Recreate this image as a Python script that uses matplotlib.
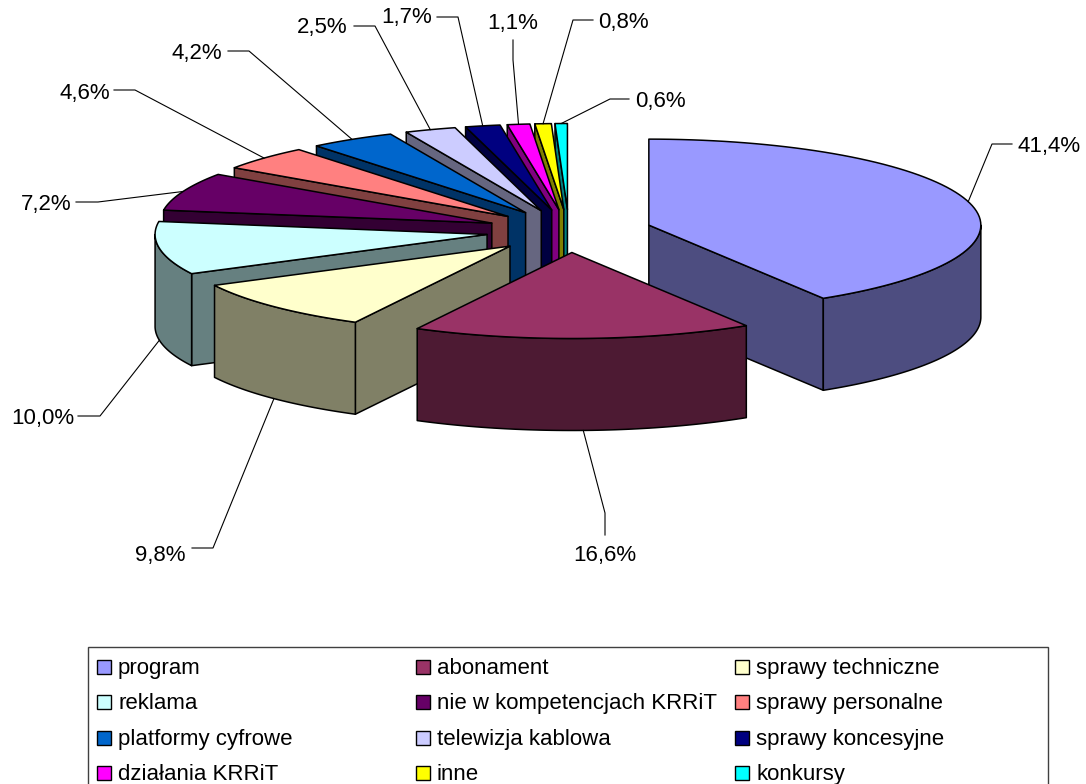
import numpy as np
import matplotlib
matplotlib.use('Agg')
import matplotlib.pyplot as plt
from matplotlib.patches import Polygon, Rectangle

plt.rcParams['font.family'] = ['Liberation Sans', 'DejaVu Sans']

names = ['program', 'abonament', 'sprawy techniczne', 'reklama',
         'nie w kompetencjach KRRiT', 'sprawy personalne', 'platformy cyfrowe',
         'telewizja kablowa', 'sprawy koncesyjne', 'działania KRRiT', 'inne', 'konkursy']
values = [41.4, 16.6, 9.8, 10.0, 7.2, 4.6, 4.2, 2.5, 1.7, 1.1, 0.8, 0.6]
colors = ['#9999FF', '#993366', '#FFFFCC', '#CCFFFF', '#660066', '#FF8080',
          '#0066CC', '#CCCCFF', '#000080', '#FF00FF', '#FFFF00', '#00FFFF']

# pie geometry in pixels
cx, cy = 569, 231
rx, ry = 332, 86
depth = 92
explode = 0.25

# label layout: text anchor, ha, end of the horizontal stub and elbow
label_layout = [
    (1017, 146, 'left', (1012, 144), (992, 144)),
    (605, 556, 'center', (605, 535), (605, 513)),
    (186, 555, 'right', (192, 548), (213, 548)),
    (74, 418, 'right', (78, 416), (100, 416)),
    (72, 204, 'right', (76, 202), (98, 202)),
    (110, 93, 'right', (114, 90), (135, 90)),
    (222, 53, 'right', (228, 51), (249, 51)),
    (348, 27, 'right', (354, 26), (375, 26)),
    (432, 17, 'right', (437, 17), (458, 17)),
    (513, 23, 'center', (513, 40), (513, 60)),
    (598, 22, 'left', (593, 20), (573, 20)),
    (635, 101, 'left', (629, 99), (610, 99)),
]

fig = plt.figure(figsize=(10.86, 7.84), dpi=100)
ax = fig.add_axes([0, 0, 1, 1])
ax.set_xlim(0, 1086)
ax.set_ylim(784, 0)
ax.axis('off')


def rim(apex, deg):
    a = np.radians(deg)
    return np.column_stack([apex[0] + rx * np.sin(a), apex[1] - ry * np.cos(a)])


def darker(col):
    return tuple(c * 0.5 for c in matplotlib.colors.to_rgb(col))


# slice angles, clockwise from 12 o'clock
edges = np.cumsum([0] + values) / sum(values) * 360
mids = (edges[:-1] + edges[1:]) / 2
apexes = [(cx + explode * rx * np.sin(np.radians(m)),
           cy - explode * ry * np.cos(np.radians(m))) for m in mids]

# back to front
for i in sorted(range(len(values)), key=lambda k: apexes[k][1]):
    a0, a1 = edges[i], edges[i + 1]
    apex = apexes[i]
    side = darker(colors[i])
    kw = dict(edgecolor='black', linewidth=1.1, joinstyle='round')

    for deg, seen in ((a0, np.sin(np.radians(a0)) < 0), (a1, np.sin(np.radians(a1)) > 0)):
        if seen:
            p = rim(apex, [deg])[0]
            ax.add_patch(Polygon([apex, p, (p[0], p[1] + depth), (apex[0], apex[1] + depth)],
                                 facecolor=side, **kw))

    w0, w1 = max(a0, 90), min(a1, 270)
    if w1 > w0:
        arc = rim(apex, np.linspace(w0, w1, 60))
        low = arc[::-1] + [0, depth]
        ax.add_patch(Polygon(np.vstack([arc, low]), facecolor=side, **kw))

    arc = rim(apex, np.linspace(a0, a1, 80))
    ax.add_patch(Polygon(np.vstack([[apex], arc]), facecolor=colors[i], **kw))

# leader lines and value labels
for i, v in enumerate(values):
    tx, ty, ha, stub, elbow = label_layout[i]
    p = rim(apexes[i], [mids[i]])[0]
    if 90 < mids[i] < 270:
        p = p + [0, depth]
    ax.plot([stub[0], elbow[0], p[0]], [stub[1], elbow[1], p[1]], color='black', lw=0.8)
    ax.text(tx, ty, f'{v:.1f}%'.replace('.', ','), ha=ha, va='center', fontsize=16, color='black')

# legend, filled row by row and cut off by the bottom of the image
ax.add_patch(Rectangle((88, 647), 960, 160, facecolor='white', edgecolor='#404040', linewidth=1))
col_x = [97, 416, 735]
row_y = [667, 702, 738, 773]
for i, name in enumerate(names):
    x = col_x[i % 3]
    y = row_y[i // 3]
    ax.add_patch(Rectangle((x, y - 7), 14, 14, facecolor=colors[i], edgecolor='black', linewidth=1))
    ax.text(x + 21, y + 1.5, name, ha='left', va='center', fontsize=16, color='black')

fig.savefig('out.png', dpi=100)
